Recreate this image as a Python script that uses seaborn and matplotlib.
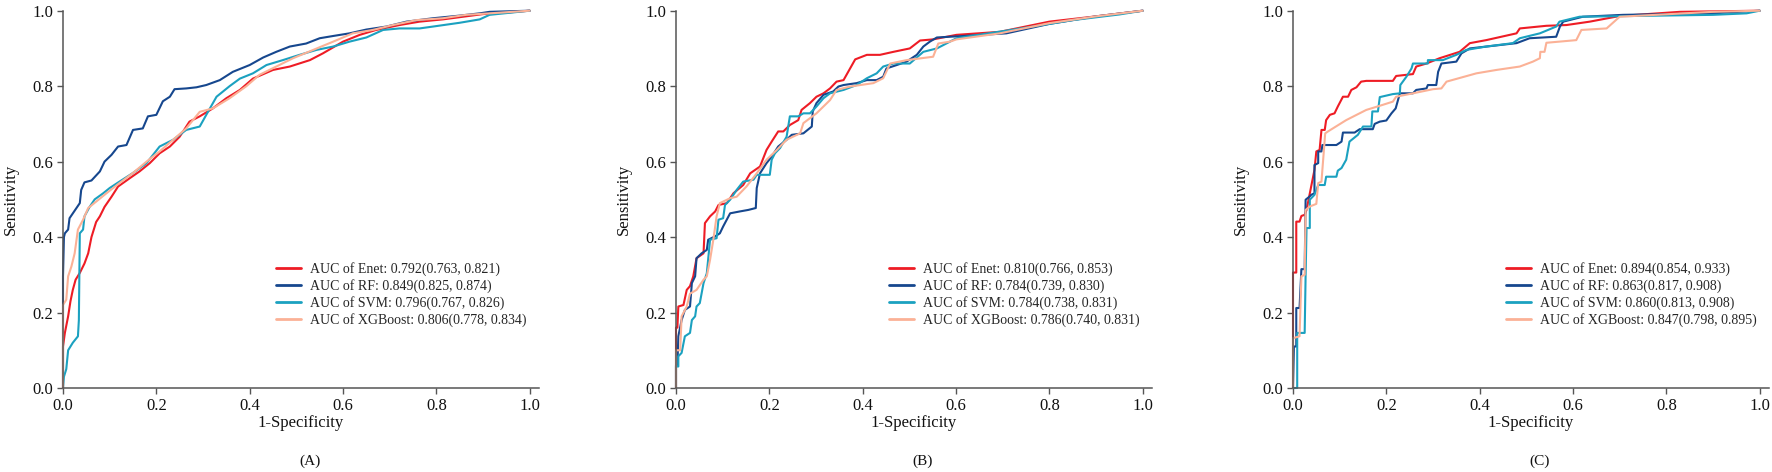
import pandas as pd
import matplotlib
matplotlib.use("Agg")
import matplotlib.pyplot as plt
import seaborn as sns

# ROC points (1-specificity, sensitivity)
A_enet = [(0, 0), (0, 0.11), (0.004, 0.146), (0.011, 0.19), (0.016, 0.23), (0.021, 0.26), (0.027, 0.287),
          (0.036, 0.305), (0.046, 0.33), (0.054, 0.357), (0.061, 0.40), (0.071, 0.44), (0.079, 0.455),
          (0.089, 0.48), (0.104, 0.507), (0.118, 0.534), (0.143, 0.556), (0.164, 0.574), (0.186, 0.596),
          (0.207, 0.622), (0.229, 0.64), (0.25, 0.666), (0.271, 0.706), (0.293, 0.72), (0.321, 0.741),
          (0.35, 0.768), (0.379, 0.79), (0.407, 0.82), (0.45, 0.843), (0.486, 0.852), (0.529, 0.869),
          (0.557, 0.887), (0.6, 0.918), (0.636, 0.936), (0.671, 0.949), (0.721, 0.962), (0.764, 0.971),
          (0.814, 0.977), (0.857, 0.984), (0.9, 0.991), (0.95, 0.995), (1, 1)]
A_rf = [(0, 0), (0, 0.296), (0.002, 0.40), (0.004, 0.41), (0.011, 0.42), (0.014, 0.45), (0.025, 0.47),
        (0.036, 0.49), (0.039, 0.525), (0.046, 0.545), (0.061, 0.55), (0.079, 0.574), (0.089, 0.60),
        (0.104, 0.618), (0.118, 0.64), (0.136, 0.644), (0.15, 0.684), (0.171, 0.688), (0.182, 0.72),
        (0.2, 0.724), (0.214, 0.76), (0.229, 0.772), (0.239, 0.792), (0.264, 0.794), (0.286, 0.797),
        (0.307, 0.803), (0.336, 0.816), (0.364, 0.838), (0.4, 0.856), (0.429, 0.876), (0.457, 0.891),
        (0.486, 0.905), (0.521, 0.913), (0.55, 0.927), (0.579, 0.933), (0.614, 0.94), (0.65, 0.95),
        (0.693, 0.958), (0.736, 0.971), (0.793, 0.98), (0.85, 0.987), (0.893, 0.993), (0.914, 0.997), (1, 1)]
A_svm = [(0, 0), (0.002, 0.03), (0.007, 0.05), (0.011, 0.10), (0.021, 0.12), (0.032, 0.137), (0.034, 0.18),
         (0.036, 0.41), (0.043, 0.42), (0.046, 0.455), (0.057, 0.48), (0.068, 0.5), (0.086, 0.516),
         (0.1, 0.53), (0.121, 0.547), (0.15, 0.57), (0.179, 0.596), (0.207, 0.64), (0.236, 0.658),
         (0.264, 0.684), (0.293, 0.693), (0.307, 0.724), (0.329, 0.772), (0.357, 0.8), (0.379, 0.82),
         (0.407, 0.834), (0.436, 0.856), (0.471, 0.869), (0.507, 0.883), (0.543, 0.896), (0.579, 0.905),
         (0.614, 0.918), (0.65, 0.929), (0.686, 0.949), (0.721, 0.953), (0.764, 0.953), (0.793, 0.958),
         (0.85, 0.968), (0.893, 0.977), (0.914, 0.989), (1, 1)]
A_xgb = [(0, 0), (0, 0.22), (0.007, 0.234), (0.011, 0.296), (0.018, 0.322), (0.025, 0.357), (0.032, 0.42),
         (0.043, 0.446), (0.054, 0.477), (0.071, 0.494), (0.093, 0.516), (0.121, 0.543), (0.15, 0.57),
         (0.179, 0.6), (0.207, 0.627), (0.236, 0.658), (0.264, 0.688), (0.293, 0.732), (0.321, 0.741),
         (0.357, 0.768), (0.393, 0.8), (0.421, 0.83), (0.457, 0.852), (0.493, 0.874), (0.536, 0.896),
         (0.579, 0.918), (0.621, 0.94), (0.664, 0.949), (0.707, 0.962), (0.757, 0.975), (0.814, 0.98),
         (0.864, 0.989), (0.914, 0.993), (1, 1)]

B_enet = [(0, 0), (0, 0.16), (0.003, 0.16), (0.005, 0.216), (0.016, 0.22), (0.023, 0.26), (0.03, 0.27),
          (0.037, 0.296), (0.044, 0.344), (0.059, 0.357), (0.062, 0.437), (0.073, 0.455), (0.084, 0.468),
          (0.091, 0.485), (0.109, 0.49), (0.123, 0.516), (0.144, 0.538), (0.159, 0.569), (0.18, 0.587),
          (0.194, 0.631), (0.205, 0.653), (0.219, 0.68), (0.23, 0.68), (0.244, 0.697), (0.262, 0.71),
          (0.269, 0.737), (0.287, 0.755), (0.301, 0.772), (0.316, 0.781), (0.33, 0.794), (0.344, 0.812),
          (0.359, 0.816), (0.384, 0.871), (0.409, 0.883), (0.437, 0.883), (0.466, 0.891), (0.501, 0.9),
          (0.523, 0.921), (0.551, 0.924), (0.601, 0.936), (0.694, 0.944), (0.80, 0.971), (0.9, 0.985), (1, 1)]
B_rf = [(0, 0), (0, 0.06), (0.003, 0.06), (0.005, 0.137), (0.012, 0.18), (0.019, 0.207), (0.03, 0.216),
        (0.034, 0.278), (0.041, 0.296), (0.044, 0.344), (0.055, 0.357), (0.066, 0.366), (0.069, 0.393),
        (0.084, 0.402), (0.094, 0.41), (0.101, 0.428), (0.116, 0.463), (0.137, 0.468), (0.155, 0.472),
        (0.171, 0.477), (0.173, 0.53), (0.18, 0.569), (0.194, 0.596), (0.205, 0.613), (0.219, 0.64),
        (0.237, 0.658), (0.248, 0.671), (0.273, 0.675), (0.291, 0.693), (0.293, 0.733), (0.301, 0.755),
        (0.316, 0.777), (0.337, 0.786), (0.348, 0.799), (0.359, 0.803), (0.387, 0.808), (0.409, 0.816),
        (0.43, 0.816), (0.444, 0.825), (0.451, 0.847), (0.473, 0.856), (0.494, 0.865), (0.516, 0.883),
        (0.53, 0.905), (0.544, 0.918), (0.559, 0.929), (0.587, 0.931), (0.616, 0.933), (0.708, 0.94),
        (0.8, 0.965), (0.9, 0.985), (1, 1)]
B_svm = [(0, 0), (0, 0.057), (0.005, 0.057), (0.005, 0.084), (0.012, 0.093), (0.019, 0.137), (0.03, 0.146),
         (0.034, 0.18), (0.041, 0.19), (0.044, 0.216), (0.051, 0.225), (0.059, 0.278), (0.066, 0.304),
         (0.073, 0.393), (0.087, 0.397), (0.091, 0.446), (0.101, 0.45), (0.105, 0.485), (0.116, 0.499),
         (0.13, 0.525), (0.144, 0.547), (0.166, 0.552), (0.173, 0.565), (0.201, 0.565), (0.205, 0.605),
         (0.212, 0.622), (0.223, 0.636), (0.237, 0.666), (0.244, 0.72), (0.262, 0.72), (0.273, 0.728),
         (0.287, 0.728), (0.301, 0.746), (0.316, 0.768), (0.33, 0.781), (0.359, 0.79), (0.387, 0.803),
         (0.409, 0.821), (0.43, 0.834), (0.444, 0.852), (0.466, 0.86), (0.501, 0.86), (0.53, 0.891),
         (0.559, 0.9), (0.587, 0.918), (0.601, 0.927), (0.765, 0.958), (0.85, 0.975), (0.95, 0.99), (1, 1)]
B_xgb = [(0, 0), (0, 0.1), (0.009, 0.1), (0.012, 0.19), (0.023, 0.216), (0.03, 0.25), (0.044, 0.26),
         (0.059, 0.287), (0.066, 0.296), (0.073, 0.34), (0.08, 0.393), (0.087, 0.455), (0.094, 0.49),
         (0.116, 0.503), (0.13, 0.507), (0.151, 0.534), (0.173, 0.569), (0.194, 0.605), (0.216, 0.631),
         (0.237, 0.658), (0.266, 0.675), (0.273, 0.702), (0.301, 0.728), (0.33, 0.763), (0.344, 0.79),
         (0.373, 0.799), (0.423, 0.808), (0.444, 0.821), (0.459, 0.86), (0.494, 0.869), (0.551, 0.878),
         (0.562, 0.913), (0.587, 0.918), (0.601, 0.924), (0.694, 0.94), (0.80, 0.967), (0.9, 0.985), (1, 1)]

C_enet = [(0, 0), (0, 0.306), (0.007, 0.306), (0.007, 0.441), (0.014, 0.441), (0.018, 0.456), (0.025, 0.459),
          (0.029, 0.472), (0.046, 0.578), (0.05, 0.627), (0.057, 0.631), (0.061, 0.684), (0.068, 0.684),
          (0.071, 0.71), (0.079, 0.724), (0.089, 0.728), (0.096, 0.746), (0.107, 0.772), (0.118, 0.772),
          (0.125, 0.79), (0.136, 0.797), (0.146, 0.812), (0.157, 0.814), (0.214, 0.814), (0.221, 0.827),
          (0.257, 0.832), (0.264, 0.852), (0.286, 0.86), (0.314, 0.874), (0.357, 0.891), (0.379, 0.914),
          (0.414, 0.922), (0.479, 0.94), (0.486, 0.953), (0.543, 0.96), (0.586, 0.962), (0.636, 0.971),
          (0.70, 0.986), (0.829, 0.997), (1, 1)]
C_rf = [(0, 0), (0.002, 0.11), (0.007, 0.11), (0.007, 0.212), (0.014, 0.212), (0.018, 0.315), (0.025, 0.315),
        (0.027, 0.499), (0.036, 0.508), (0.039, 0.512), (0.046, 0.516), (0.046, 0.591), (0.054, 0.596),
        (0.054, 0.627), (0.061, 0.627), (0.063, 0.644), (0.093, 0.644), (0.104, 0.653), (0.107, 0.677),
        (0.132, 0.677), (0.143, 0.686), (0.171, 0.686), (0.175, 0.70), (0.186, 0.706), (0.2, 0.709),
        (0.211, 0.728), (0.22, 0.741), (0.227, 0.772), (0.229, 0.781), (0.257, 0.781), (0.264, 0.79),
        (0.286, 0.794), (0.289, 0.803), (0.307, 0.803), (0.311, 0.838), (0.318, 0.86), (0.35, 0.865),
        (0.361, 0.887), (0.379, 0.9), (0.443, 0.909), (0.479, 0.914), (0.507, 0.927), (0.564, 0.931),
        (0.572, 0.958), (0.579, 0.971), (0.621, 0.984), (0.707, 0.989), (0.9, 0.993), (1, 1)]
C_svm = [(0, 0), (0.009, 0), (0.009, 0.146), (0.025, 0.146), (0.027, 0.296), (0.029, 0.424), (0.036, 0.424),
         (0.036, 0.499), (0.046, 0.512), (0.054, 0.538), (0.068, 0.538), (0.071, 0.56), (0.093, 0.56),
         (0.096, 0.576), (0.104, 0.583), (0.114, 0.605), (0.121, 0.653), (0.139, 0.671), (0.15, 0.693),
         (0.168, 0.693), (0.17, 0.733), (0.182, 0.733), (0.186, 0.771), (0.214, 0.779), (0.229, 0.781),
         (0.23, 0.803), (0.243, 0.825), (0.254, 0.847), (0.257, 0.86), (0.289, 0.86), (0.289, 0.869),
         (0.321, 0.869), (0.35, 0.883), (0.371, 0.896), (0.414, 0.905), (0.471, 0.914), (0.486, 0.927),
         (0.529, 0.94), (0.564, 0.958), (0.571, 0.971), (0.614, 0.984), (0.90, 0.989), (0.972, 0.993), (1, 1)]
C_xgb = [(0, 0), (0, 0.132), (0.014, 0.137), (0.018, 0.296), (0.025, 0.3), (0.027, 0.472), (0.036, 0.481),
         (0.05, 0.488), (0.054, 0.543), (0.061, 0.547), (0.069, 0.675), (0.075, 0.68), (0.114, 0.71),
         (0.157, 0.737), (0.186, 0.748), (0.214, 0.759), (0.221, 0.772), (0.257, 0.781), (0.3, 0.792),
         (0.318, 0.794), (0.329, 0.812), (0.393, 0.834), (0.436, 0.843), (0.486, 0.852), (0.514, 0.865),
         (0.529, 0.874), (0.53, 0.891), (0.539, 0.891), (0.543, 0.915), (0.607, 0.922), (0.618, 0.949),
         (0.672, 0.953), (0.70, 0.984), (0.90, 0.997), (1, 1)]

models = ["Enet", "RF", "SVM", "XGBoost"]
colors = ["#EE1C25", "#16478E", "#1BA1C0", "#FBB196"]
panels = ["(A)", "(B)", "(C)"]
curves = [[A_enet, A_rf, A_svm, A_xgb],
          [B_enet, B_rf, B_svm, B_xgb],
          [C_enet, C_rf, C_svm, C_xgb]]
auc_text = [["0.792(0.763, 0.821)", "0.849(0.825, 0.874)", "0.796(0.767, 0.826)", "0.806(0.778, 0.834)"],
            ["0.810(0.766, 0.853)", "0.784(0.739, 0.830)", "0.784(0.738, 0.831)", "0.786(0.740, 0.831)"],
            ["0.894(0.854, 0.933)", "0.863(0.817, 0.908)", "0.860(0.813, 0.908)", "0.847(0.798, 0.895)"]]
ticks = [0.0, 0.2, 0.4, 0.6, 0.8, 1.0]

sns.set_theme(style="white")
plt.rcParams["font.family"] = ["Liberation Serif", "DejaVu Serif"]

fig = plt.figure(figsize=(17.72, 4.72), dpi=100)
lefts = [63 / 1772, 676 / 1772, 1293 / 1772]
ax_w = 476 / 1772
ax_b = 84 / 472
ax_h = 377.3 / 472

for i in range(3):
    ax = fig.add_axes([lefts[i], ax_b, ax_w, ax_h])
    rows = []
    for m, pts, auc in zip(models, curves[i], auc_text[i]):
        lab = f"AUC of {m}: {auc}"
        for x, y in pts:
            rows.append({"fpr": x, "tpr": y, "model": lab})
    df = pd.DataFrame(rows)
    labels = [f"AUC of {m}: {a}" for m, a in zip(models, auc_text[i])]
    pal = dict(zip(labels, colors))
    sns.lineplot(data=df, x="fpr", y="tpr", hue="model", hue_order=labels, palette=pal,
                 sort=False, estimator=None, linewidth=1.5, ax=ax)
    for ln in ax.lines:
        ln.set_clip_on(False)

    ax.set_xlim(0, 1.02)
    ax.set_ylim(0, 1.0)
    ax.set_xticks(ticks)
    ax.set_yticks(ticks)
    ax.set_xticklabels([f"{t:.1f}" for t in ticks])
    ax.set_yticklabels([f"{t:.1f}" for t in ticks])
    for s in ["top", "right"]:
        ax.spines[s].set_visible(False)
    for s in ["left", "bottom"]:
        ax.spines[s].set_color("#555555")
        ax.spines[s].set_linewidth(1.1)
    ax.tick_params(axis="both", direction="out", length=4.5, width=1, color="#555555",
                   labelsize=12, pad=2.5, left=True, bottom=True, labelcolor="#111111")
    ax.set_xlabel("1-Specificity", fontsize=12, labelpad=1, color="#111111")
    ax.set_ylabel("Sensitivity", fontsize=12, labelpad=10, color="#111111")
    ax.text(0.519, -0.194, panels[i], transform=ax.transAxes, ha="center", va="center",
            fontsize=11, color="#111111")

    leg = ax.legend(loc="upper left", bbox_to_anchor=(0.4475, 0.334), frameon=False,
                    fontsize=10, handlelength=1.78, handletextpad=0.67, labelspacing=0.22,
                    borderpad=0, borderaxespad=0)
    for h in leg.get_lines():
        h.set_linewidth(2)

fig.savefig("out.png", dpi=100)
